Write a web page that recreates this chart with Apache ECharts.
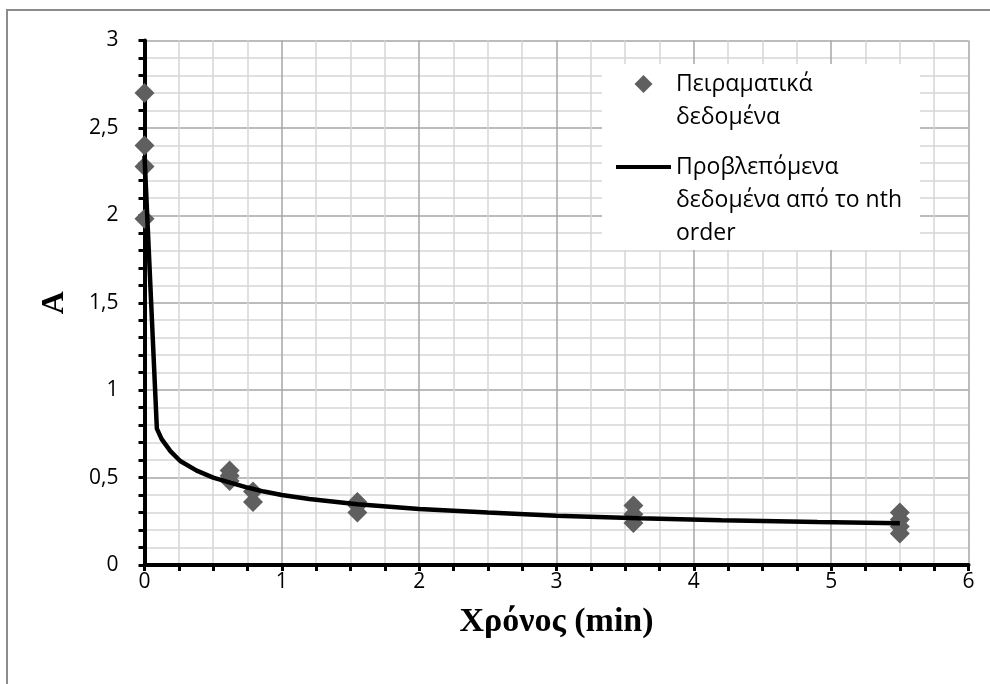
<!DOCTYPE html>
<html>
<head>
<meta charset="utf-8">
<script src="https://cdn.jsdelivr.net/npm/echarts@6/dist/echarts.min.js"></script>
<style>
  html, body { margin: 0; padding: 0; background: #ffffff; }
  #chart { width: 990px; height: 684px; }
</style>
</head>
<body>
<div id="chart"></div>
<script>
// Experimental absorbance readings (replicates share a time value)
const expTimes  = [0, 0, 0, 0, 0.62, 0.62, 0.62, 0.79, 0.79, 1.55, 1.55, 1.55, 3.56, 3.56, 3.56, 5.5, 5.5, 5.5, 5.5];
const expValues = [2.70, 2.40, 2.28, 1.98, 0.54, 0.51, 0.48, 0.42, 0.36, 0.36, 0.34, 0.30, 0.34, 0.29, 0.24, 0.30, 0.26, 0.22, 0.18];

// nth-order model prediction
const modelTimes  = [0, 0.09, 0.125, 0.19, 0.26, 0.38, 0.5, 0.63, 0.75, 0.87, 1, 1.2, 1.55, 2, 2.5, 3, 3.6, 4.2, 4.9, 5.5];
const modelValues = [2.34, 0.78, 0.72, 0.65, 0.595, 0.54, 0.50, 0.47, 0.443, 0.42, 0.40, 0.377, 0.348, 0.32, 0.30, 0.282, 0.268, 0.256, 0.246, 0.239];

// Axis ranges and tick steps
const xRange = [0, 6];
const yRange = [0, 3];
const xStep = 1;
const yStep = 0.5;

const expName = 'Πειραματικά δεδομένα';
const modelName = 'Προβλεπόμενα δεδομένα από το nth order';
// legend text, broken into lines; leading blank lines keep the icon level with the first line
const legendText = {};
legendText[expName] = '\nΠειραματικά\nδεδομένα';
legendText[modelName] = '\n\nΠροβλεπόμενα\nδεδομένα από το nth\norder';

const sansFont = '"Open Sans", "Noto Sans", sans-serif';
const serifFont = '"Liberation Serif", "DejaVu Serif", serif';

const majorGrid = '#a6a6a6';
const minorGrid = '#d6d6d6';
const markerGrey = '#5f5f5f';

const chart = echarts.init(document.getElementById('chart'), null, { renderer: 'canvas' });

const decimalComma = v => String(v).replace('.', ',');

chart.setOption({
  animation: false,
  backgroundColor: '#ffffff',
  grid: { left: 144.5, right: 21.5, top: 40.5, bottom: 119, containLabel: false },
  xAxis: {
    type: 'value',
    min: xRange[0], max: xRange[1], interval: xStep,
    name: 'Χρόνος (min)',
    nameLocation: 'middle',
    nameGap: 40,
    nameTextStyle: { fontFamily: serifFont, fontWeight: 'bold', fontSize: 34, color: '#000' },
    axisLine: { show: true, onZero: false, lineStyle: { color: '#000', width: 4 } },
    axisTick: { show: true, inside: false, length: 6, lineStyle: { color: '#000', width: 3 } },
    minorTick: { show: true, splitNumber: 4, length: 6, lineStyle: { color: '#000', width: 3 } },
    axisLabel: { margin: 7, fontFamily: sansFont, fontSize: 21, color: '#000', formatter: decimalComma },
    splitLine: { show: true, lineStyle: { color: majorGrid, width: 1.5 } },
    minorSplitLine: { show: true, lineStyle: { color: minorGrid, width: 1.5 } }
  },
  yAxis: {
    type: 'value',
    min: yRange[0], max: yRange[1], interval: yStep,
    name: 'A',
    nameLocation: 'middle',
    nameGap: 74,
    nameRotate: 90,
    nameTextStyle: { fontFamily: serifFont, fontWeight: 'bold', fontSize: 32, color: '#000' },
    axisLine: { show: true, onZero: false, lineStyle: { color: '#000', width: 4 } },
    axisTick: { show: true, inside: false, length: 6, lineStyle: { color: '#000', width: 3 } },
    minorTick: { show: true, splitNumber: 5, length: 6, lineStyle: { color: '#000', width: 3 } },
    axisLabel: { margin: 26, fontFamily: sansFont, fontSize: 21, color: '#000', formatter: decimalComma },
    splitLine: { show: true, lineStyle: { color: majorGrid, width: 1.5 } },
    minorSplitLine: { show: true, lineStyle: { color: minorGrid, width: 1.5 } }
  },
  legend: {
    orient: 'vertical',
    left: 616,
    top: 34.5,
    padding: 0,
    itemGap: -49,
    itemWidth: 55,
    itemHeight: 18,
    symbolKeepAspect: true,
    selectedMode: false,
    textStyle: { fontFamily: sansFont, fontSize: 23, lineHeight: 33, color: '#000' },
    formatter: name => legendText[name],
    data: [
      { name: expName, icon: 'path://M0,-1L1,0L0,1L-1,0Z', itemStyle: { color: markerGrey } },
      { name: modelName, icon: 'path://M0,0L55,0L55,4L0,4Z', itemStyle: { color: '#000' } }
    ]
  },
  graphic: [
    {
      type: 'rect',
      z: 1,
      silent: true,
      shape: { x: 7, y: 10, width: 1100, height: 800 },
      style: { fill: 'none', stroke: '#8c8c8c', lineWidth: 2 }
    },
    {
      type: 'rect',
      z: 1,
      silent: true,
      shape: { x: 602, y: 64, width: 318, height: 186 },
      style: { fill: '#ffffff' }
    }
  ],
  series: [
    {
      name: expName,
      type: 'scatter',
      symbol: 'diamond',
      symbolSize: 20,
      itemStyle: { color: markerGrey, opacity: 1 },
      z: 3,
      data: expTimes.map((t, i) => [t, expValues[i]])
    },
    {
      name: modelName,
      type: 'line',
      symbol: 'none',
      showSymbol: false,
      smooth: false,
      lineStyle: { color: '#000', width: 4.5 },
      itemStyle: { color: '#000' },
      z: 4,
      data: modelTimes.map((t, i) => [t, modelValues[i]])
    }
  ]
});
</script>
</body>
</html>
